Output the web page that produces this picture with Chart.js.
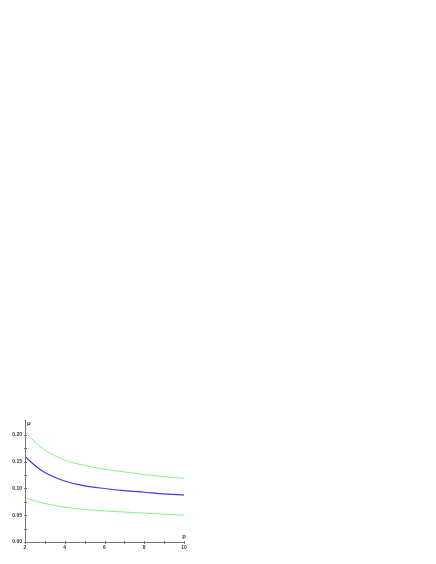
<!DOCTYPE html>
<html><head><meta charset="utf-8">
<script src="https://cdn.jsdelivr.net/npm/chart.js@4"></script>
<style>html,body{margin:0;padding:0;background:#fff}#wrap{position:absolute;left:0;top:0;width:436px;height:564px}</style>
</head><body><div id="wrap"><canvas id="c" width="436" height="564"></canvas></div>
<script>
const pValues = [2,2.5,3,4,5,6,7,8,9,10];
const upperGreen = [0.206,0.187,0.172,0.153,0.143,0.136,0.131,0.126,0.122,0.119];
const blueMid = [0.160,0.143,0.130,0.114,0.105,0.100,0.096,0.093,0.090,0.088];
const lowerGreen = [0.083,0.077,0.072,0.065,0.061,0.058,0.056,0.054,0.052,0.050];
const xMajorTicks = [2,4,6,8,10];
const yMajorTicks = [0,0.05,0.10,0.15,0.20];
const xMinorTicks = [3,5,7,9];
const yMinorTicks = [0.025,0.075,0.125,0.175];

const toPts = arr => arr.map((v,i)=>({x:pValues[i],y:v}));
const FONT = 'bold 5px "Liberation Sans", Arial, sans-serif';

const ticksPlugin = {
  id:'ticksPlugin',
  afterDraw(chart){
    const ctx = chart.ctx, xs = chart.scales.x, ys = chart.scales.y;
    const ca = chart.chartArea;
    ctx.save();
    ctx.strokeStyle = '#777'; ctx.lineWidth = 1;
    ctx.beginPath();
    ctx.moveTo(ca.left+0.5, ca.top); ctx.lineTo(ca.left+0.5, ca.bottom);
    ctx.moveTo(ca.left, ca.bottom+0.5); ctx.lineTo(ca.right, ca.bottom+0.5);
    xMajorTicks.concat(xMinorTicks).forEach(v=>{const px=Math.round(xs.getPixelForValue(v))+0.5; ctx.moveTo(px,ca.bottom-1); ctx.lineTo(px,ca.bottom+2);});
    yMajorTicks.concat(yMinorTicks).forEach(v=>{const py=Math.round(ys.getPixelForValue(v))+0.5; ctx.moveTo(ca.left-1,py); ctx.lineTo(ca.left+2,py);});
    ctx.stroke();
    ctx.fillStyle = '#333'; ctx.font = FONT;
    ctx.textAlign='right'; ctx.textBaseline='middle';
    yMajorTicks.forEach(v=>ctx.fillText(v.toFixed(2), ca.left-3, ys.getPixelForValue(v)));
    ctx.textAlign='center'; ctx.textBaseline='top';
    xMajorTicks.forEach(v=>ctx.fillText(String(v), xs.getPixelForValue(v), ca.bottom+3));
    ctx.font = 'bold 6px "Liberation Sans", Arial, sans-serif';
    ctx.textAlign='left'; ctx.textBaseline='middle';
    ctx.fillText('μ', ca.left+2, ca.top+3);
    ctx.textAlign='center'; ctx.textBaseline='bottom';
    ctx.fillText('p', ca.right, ca.bottom-3);
    ctx.restore();
  }
};

new Chart(document.getElementById('c'), {
  type:'line',
  data:{datasets:[
    {data:toPts(upperGreen), borderColor:'#86f286', borderWidth:1, pointRadius:0, cubicInterpolationMode:'monotone'},
    {data:toPts(blueMid), borderColor:'#3b3bf2', borderWidth:1.2, pointRadius:0, cubicInterpolationMode:'monotone'},
    {data:toPts(lowerGreen), borderColor:'#86f286', borderWidth:1, pointRadius:0, cubicInterpolationMode:'monotone'}
  ]},
  options:{
    responsive:false, animation:false, events:[],
    layout:{padding:{left:25,right:252,top:420,bottom:22}},
    plugins:{legend:{display:false},tooltip:{enabled:false}},
    scales:{
      x:{type:'linear',min:2,max:10,display:false},
      y:{type:'linear',min:0,max:0.228,display:false}
    }
  },
  plugins:[ticksPlugin]
});
</script></body></html>
